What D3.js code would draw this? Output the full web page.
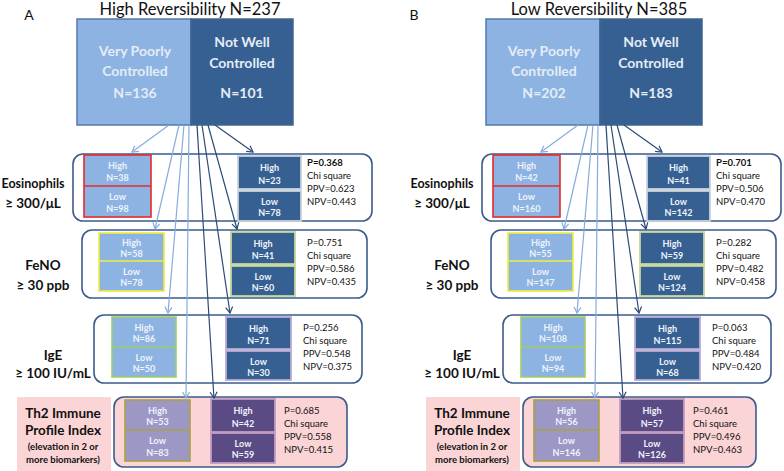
<!DOCTYPE html>
<html><head><meta charset="utf-8">
<script src="https://cdn.jsdelivr.net/npm/d3@7"></script>
<style>html,body{margin:0;padding:0;background:#fff;}svg{display:block;font-family:Lato,"Open Sans",sans-serif;}</style>
</head><body>
<svg id="c" width="784" height="471"></svg>
<script>
// ---- data ----
const panelLetters = ["A", "B"];
const panelTitles = ["High Reversibility N=237", "Low Reversibility N=385"];
const groupLabels = [["Very Poorly", "Controlled"], ["Not Well", "Controlled"]];
const groupN = [[136, 101], [202, 183]];
const biomarkers = ["Eosinophils", "FeNO", "IgE", "Th2 Immune Profile Index"];
const biomarkerLabels = [["Eosinophils", "≥ 300/μL"], ["FeNO", "≥ 30 ppb"], ["IgE", "≥ 100 IU/mL"],
                         ["Th2 Immune", "Profile Index", "(elevation in 2 or", "more biomarkers)"]];
const vpcHighA = [38, 58, 86, 53], vpcLowA = [98, 78, 50, 83];
const nwcHighA = [23, 41, 71, 42], nwcLowA = [78, 60, 30, 59];
const vpcHighB = [42, 55, 108, 56], vpcLowB = [160, 147, 94, 146];
const nwcHighB = [41, 59, 115, 57], nwcLowB = [142, 124, 68, 126];
const pA = ["0.368", "0.751", "0.256", "0.685"], pB = ["0.701", "0.282", "0.063", "0.461"];
const ppvA = ["0.623", "0.586", "0.548", "0.558"], ppvB = ["0.506", "0.482", "0.484", "0.496"];
const npvA = ["0.443", "0.435", "0.375", "0.415"], npvB = ["0.470", "0.458", "0.420", "0.463"];

const panelData = [
  {vh: vpcHighA, vl: vpcLowA, nh: nwcHighA, nl: nwcLowA, p: pA, ppv: ppvA, npv: npvA},
  {vh: vpcHighB, vl: vpcLowB, nh: nwcHighB, nl: nwcLowB, p: pB, ppv: ppvB, npv: npvB}
];

// ---- layout ----
const svg = d3.select("#c");
const panelX = d3.scaleOrdinal().domain(panelLetters).range([0, 409]);
const letterX = d3.scaleOrdinal().domain(panelLetters).range([29, 414]);

const LB = "#8db3e2", DB = "#376092";
const rows = [
  {box:[73,154,372,221], fill:"#fff", L:[84,155,151,217,186], Lf:LB, Ls:"#e42a2e", R:[238,156,301,189,191,221], Rf:DB, Rs:"#c9d2dc",
   sx:307, sy:163, lx:33, ly:[183,203], tipL:[132,152], tipR:[253,152], oL:169, oR:215},
  {box:[82,230,367,298], fill:"#fff", L:[99,233,164,291,261], Lf:LB, Ls:"#f0ee3a", R:[231,232,295,264,266,296], Rf:DB, Rs:"#c3d69b",
   sx:307, sy:243, lx:43, ly:[265,285], tipL:[155,229], tipR:[237,229], oL:179, oR:208},
  {box:[94,315,362,383], fill:"#fff", L:[112,317,176,377,347], Lf:LB, Ls:"#9fcd67", R:[226,317,291,349,351,380], Rf:DB, Rs:"#b8acd4",
   sx:303, sy:328, lx:53, ly:[355,373], tipL:[168,313], tipR:[230,313], oL:184, oR:202},
  {box:[114,397,347,467], fill:"#fbd4d6", L:[125,400,190,461,430], Lf:"#9d97c6", Ls:"#a9a044", R:[211,399,275,432,433,463], Rf:"#5a4b84", Rs:"#c39cc0",
   sx:284, sy:411, lx:63, ly:[413,430,447,460], tipL:[186,398], tipR:[214,398], oL:189, oR:197}
];

const defs = svg.append("defs");
[["light","#86acdc"],["dark","#2b4b78"]].forEach(([id,c]) => {
  defs.append("marker").attr("id","ah-"+id).attr("viewBox","-8 -5 10 10").attr("refX",0).attr("refY",0)
    .attr("markerWidth",10).attr("markerHeight",10).attr("markerUnits","userSpaceOnUse").attr("orient","auto")
    .append("path").attr("d","M-6,-3.5 L0,0 L-6,3.5").attr("fill","none").attr("stroke",c).attr("stroke-width",1.2);
});

panelLetters.forEach((letter, pi) => {
  const d = panelData[pi];
  const g = svg.append("g").attr("transform", `translate(${panelX(letter)},0)`);
  svg.append("text").attr("x", letterX(letter)).attr("y", 20).attr("text-anchor","middle")
    .attr("font-size", 14).attr("fill","#111").text(letter);
  g.append("text").attr("x", 190).attr("y", 15).attr("text-anchor","middle").attr("font-size", 16.5)
    .attr("fill","#111").text(panelTitles[pi]);

  // top box
  g.append("rect").attr("x",77).attr("y",19).attr("width",114).attr("height",106).attr("fill",LB).attr("stroke","#5479ad").attr("stroke-width",1.5);
  g.append("rect").attr("x",191).attr("y",19).attr("width",102).attr("height",106).attr("fill",DB).attr("stroke","#3f6494").attr("stroke-width",1.5);
  const tl = [[135,[51,71,93]],[242,[42,63,93]]];
  tl.forEach(([cx, ys], gi) => {
    const lines = [groupLabels[gi][0], groupLabels[gi][1], "N=" + groupN[pi][gi]];
    lines.forEach((t, k) => g.append("text").attr("x", cx).attr("y", ys[k]).attr("dy","0.35em").attr("text-anchor","middle")
      .attr("font-size",14).attr("font-weight","bold").attr("fill","#e4ecf6").text(t));
  });

  rows.forEach((r, ri) => {
    const [bx0,by0,bx1,by1] = r.box;
    g.append("rect").attr("x",bx0).attr("y",by0).attr("width",bx1-bx0).attr("height",by1-by0).attr("rx",10)
      .attr("fill",r.fill).attr("stroke","#3b5b8c").attr("stroke-width",1.6);
    // label
    if (ri === 3) {
      g.append("rect").attr("x",17).attr("y",397).attr("width",94).attr("height",74).attr("fill","#fbd4d6");
    }
    biomarkerLabels[ri].forEach((t, k) => {
      const small = ri === 3 && k >= 2;
      const tx = g.append("text").attr("x", r.lx).attr("y", r.ly[k]).attr("dy","0.35em").attr("text-anchor","middle")
        .attr("font-size", small ? 9.5 : 13.5).attr("font-weight","bold").attr("fill","#111").text(t);
      if (ri === 0 && k === 0) tx.attr("textLength", 63).attr("lengthAdjust","spacingAndGlyphs");
    });
    // left sub box (VPC)
    const [lx0,ly0,lx1,ly1,lsp] = r.L;
    g.append("rect").attr("x",lx0).attr("y",ly0).attr("width",lx1-lx0).attr("height",ly1-ly0).attr("fill",r.Lf).attr("stroke",r.Ls).attr("stroke-width",1.6);
    g.append("line").attr("x1",lx0).attr("x2",lx1).attr("y1",lsp).attr("y2",lsp).attr("stroke",r.Ls).attr("stroke-width",1.6);
    const lcx = (lx0+lx1)/2;
    const halfText = (cx, y0, y1, a, b) => {
      const h = y1 - y0;
      g.append("text").attr("x",cx).attr("y",y0+h*0.36).attr("dy","0.35em").attr("text-anchor","middle").attr("font-size",9).attr("font-weight","bold").attr("fill","#eef3fb").text(a);
      g.append("text").attr("x",cx).attr("y",y0+h*0.74).attr("dy","0.35em").attr("text-anchor","middle").attr("font-size",9).attr("font-weight","bold").attr("fill","#eef3fb").text(b);
    };
    halfText(lcx, ly0, lsp, "High", "N=" + d.vh[ri]);
    halfText(lcx, lsp, ly1, "Low", "N=" + d.vl[ri]);
    // right sub boxes (NWC)
    const [rx0,ry0,rx1,ry1,ry2,ry3] = r.R;
    g.append("rect").attr("x",rx0).attr("y",ry0).attr("width",rx1-rx0).attr("height",ry1-ry0).attr("fill",r.Rf).attr("stroke",r.Rs).attr("stroke-width",1.8);
    g.append("rect").attr("x",rx0).attr("y",ry2).attr("width",rx1-rx0).attr("height",ry3-ry2).attr("fill",r.Rf).attr("stroke",r.Rs).attr("stroke-width",1.8);
    const rcx = (rx0+rx1)/2;
    halfText(rcx, ry0, ry1, "High", "N=" + d.nh[ri]);
    halfText(rcx, ry2, ry3, "Low", "N=" + d.nl[ri]);
    // stats
    const st = ["P=" + d.p[ri], "Chi square", "PPV=" + d.ppv[ri], "NPV=" + d.npv[ri]];
    st.forEach((t, k) => g.append("text").attr("x", r.sx).attr("y", r.sy + k*13).attr("dy","0.35em")
      .attr("font-size",9.5).attr("font-weight", (ri===0 && k===0) ? "bold" : "normal").attr("fill","#111").text(t));
  });

  // arrows (drawn on top)
  rows.forEach(r => {
    g.append("line").attr("x1",r.oL).attr("y1",125).attr("x2",r.tipL[0]).attr("y2",r.tipL[1])
      .attr("stroke","#86acdc").attr("stroke-width",1.2).attr("marker-end","url(#ah-light)");
    g.append("line").attr("x1",r.oR).attr("y1",125).attr("x2",r.tipR[0]).attr("y2",r.tipR[1])
      .attr("stroke","#2b4b78").attr("stroke-width",1.2).attr("marker-end","url(#ah-dark)");
  });
});
</script>
</body></html>
